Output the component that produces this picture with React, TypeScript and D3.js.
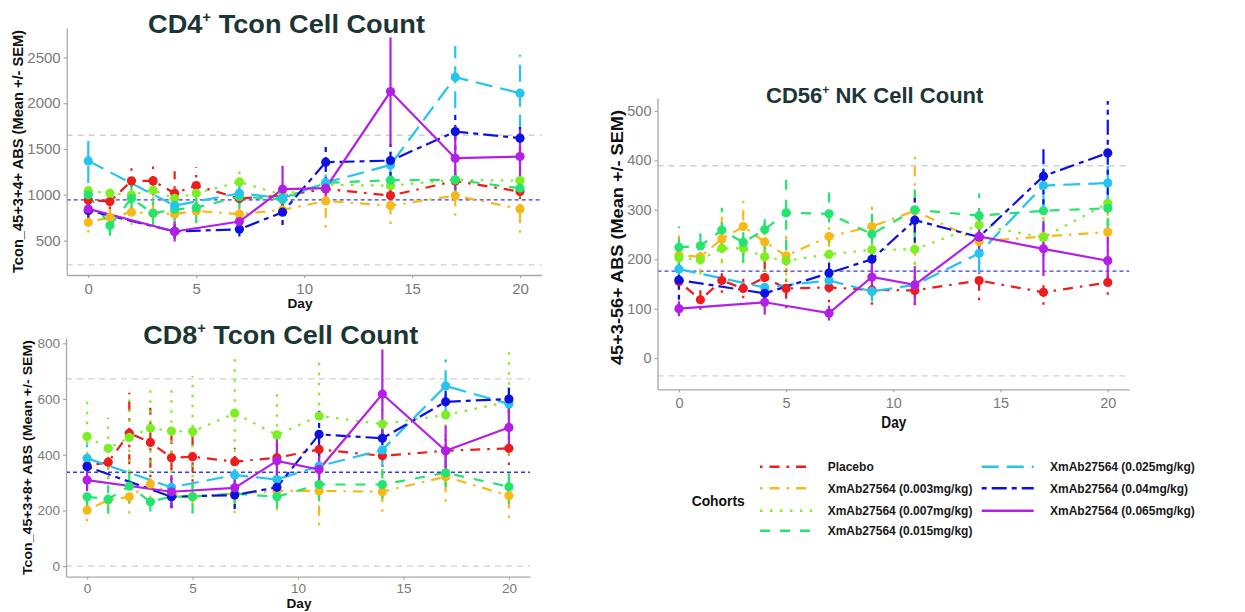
import { useEffect, useRef } from 'react';
import * as d3 from 'd3';

// Sampling days: the first four cohorts were sampled more often
const days = [0, 1, 2, 3, 4, 5, 7, 9, 11, 14, 17, 20];
const daysLate = [0, 4, 7, 9, 11, 14, 17, 20];
const dayTicks = [0, 5, 10, 15, 20];

const cohorts = [
    'Placebo',
    'XmAb27564 (0.003mg/kg)',
    'XmAb27564 (0.007mg/kg)',
    'XmAb27564 (0.015mg/kg)',
    'XmAb27564 (0.025mg/kg)',
    'XmAb27564 (0.04mg/kg)',
    'XmAb27564 (0.065mg/kg)',
];
const cohortDays = [days, days, days, days, daysLate, daysLate, daysLate];

// CD4+ Tcon
const cd4Mean = [
    [944, 926, 1152, 1152, 1017, 1101, 960, 990, 1064, 992, 1150, 1035],
    [700, 755, 810, 800, 790, 824, 788, 835, 933, 882, 991, 846],
    [1043, 1017, 999, 1050, 960, 1017, 1140, 1000, 1108, 1100, 1163, 1155],
    [1000, 664, 960, 799, 840, 860, 980, 950, 1130, 1160, 1163, 1072],
    [1370, 882, 1017, 963, 1133, 1326, 2284, 2109],
    [830, 600, 624, 810, 1356, 1373, 1690, 1618],
    [846, 600, 708, 1061, 1072, 2127, 1400, 1417],
];
const cd4Sem = [
    [90, 80, 180, 160, 240, 200, 150, 120, 130, 110, 100, 80],
    [110, 90, 140, 100, 100, 120, 130, 150, 290, 200, 220, 260],
    [80, 90, 100, 100, 100, 90, 130, 100, 100, 120, 100, 90],
    [100, 110, 150, 130, 120, 170, 130, 100, 100, 100, 150, 100],
    [240, 160, 120, 90, 100, 150, 340, 420],
    [80, 80, 80, 140, 215, 180, 200, 150],
    [70, 110, 80, 255, 120, 590, 350, 300],
];
const cd4Ticks = [500, 1000, 1500, 2000, 2500];
const cd4Limits = [235, 1650];
const cd4Baseline = 945;

// CD8+ Tcon
const cd8Mean = [
    [360, 373, 477, 444, 389, 393, 375, 389, 419, 396, 414, 423],
    [201, 237, 249, 295, 260, 250, 260, 270, 270, 267, 321, 253],
    [465, 423, 462, 495, 485, 483, 549, 471, 539, 510, 543, 590],
    [249, 240, 287, 231, 250, 249, 260, 249, 293, 293, 335, 285],
    [387, 283, 327, 311, 359, 417, 647, 582],
    [357, 249, 255, 283, 473, 459, 590, 600],
    [309, 267, 281, 378, 347, 618, 414, 498],
];
const cd8Sem = [
    [60, 60, 145, 125, 80, 90, 50, 50, 60, 40, 60, 60],
    [40, 50, 60, 50, 50, 60, 70, 70, 123, 72, 90, 80],
    [135, 110, 160, 160, 150, 200, 210, 150, 213, 170, 150, 190],
    [40, 50, 60, 35, 40, 60, 50, 40, 60, 50, 50, 60],
    [50, 40, 40, 30, 50, 60, 95, 60],
    [50, 40, 50, 40, 85, 60, 50, 50],
    [40, 60, 40, 80, 50, 160, 90, 80],
];
const cd8Ticks = [0, 200, 400, 600, 800];
const cd8Limits = [0, 672];
const cd8Baseline = 337;

// CD56+ NK
const nkMean = [
    [155, 118, 157, 141, 163, 141, 143, 138, 137, 157, 133, 153],
    [208, 205, 241, 266, 235, 207, 246, 266, 298, 236, 246, 255],
    [203, 199, 222, 222, 205, 197, 210, 219, 220, 269, 244, 313],
    [224, 227, 259, 234, 260, 294, 292, 251, 300, 288, 298, 303],
    [180, 143, 157, 135, 148, 212, 349, 354],
    [158, 131, 172, 200, 279, 245, 368, 415],
    [100, 113, 91, 164, 148, 246, 221, 197],
];
const nkSem = [
    [35, 20, 25, 20, 57, 40, 30, 30, 30, 40, 25, 25],
    [40, 30, 45, 60, 40, 40, 40, 40, 110, 50, 40, 40],
    [30, 30, 30, 30, 30, 40, 40, 35, 50, 40, 40, 40],
    [42, 35, 45, 40, 40, 75, 58, 60, 60, 45, 40, 40],
    [30, 25, 25, 20, 25, 40, 50, 50],
    [40, 20, 30, 25, 45, 40, 57, 105],
    [15, 25, 15, 30, 38, 40, 55, 48],
];
const nkTicks = [0, 100, 200, 300, 400, 500];
const nkLimits = [-36, 389];
const nkBaseline = 176;

const colors = ['#ee1c1c', '#f7b917', '#7cee22', '#22e46e', '#25c3ef', '#0d12e0', '#b31fe6'];
const dashes = ['2.5,7,10,7', '2.5,7,10,7', '2.5,7.5', '10,10', '17,8', '5,5,15,5', null];

const FONT = "'Liberation Sans', Arial, Helvetica, sans-serif";

const panels = [
    {
        mean: cd4Mean, sem: cd4Sem, ticks: cd4Ticks, limits: cd4Limits, baseline: cd4Baseline,
        left: 66.7, right: 541.6, top: 28, bottom: 275, yDomain: [125, 2820],
        tickSize: 15, xPad: 5,
        title: ['CD4', ' Tcon Cell Count'], titleX: 286.5, titleY: 33.3, titleSize: 26, titleLen: 277,
        yLabel: 'Tcon_45+3+4+ ABS (Mean +/- SEM)', yLabelX: 18.3, yLabelY: 151.5, yLabelSize: 14, yLabelLen: 243,
        xLabelX: 300, xLabelY: 307.5, xLabelSize: 13.5, xLabelLen: 25,
    },
    {
        mean: cd8Mean, sem: cd8Sem, ticks: cd8Ticks, limits: cd8Limits, baseline: cd8Baseline,
        left: 66, right: 530, top: 338, bottom: 576.7, yDomain: [-38, 819],
        tickSize: 13.5, xPad: 4,
        title: ['CD8', ' Tcon Cell Count'], titleX: 280.7, titleY: 343.5, titleSize: 26, titleLen: 275,
        yLabel: 'Tcon_45+3+8+ ABS (Mean +/- SEM)', yLabelX: 27.5, yLabelY: 457.5, yLabelSize: 13, yLabelLen: 235,
        xLabelX: 299, xLabelY: 607.8, xLabelSize: 13.5, xLabelLen: 25,
    },
    {
        mean: nkMean, sem: nkSem, ticks: nkTicks, limits: nkLimits, baseline: nkBaseline,
        left: 657.5, right: 1129.2, top: 98, bottom: 389.3, yDomain: [-63, 526],
        tickSize: 14.5, xPad: 5,
        title: ['CD56', ' NK Cell Count'], titleX: 874.7, titleY: 103.3, titleSize: 22, titleLen: null,
        yLabel: '45+3-56+ ABS (Mean +/- SEM)', yLabelX: 617, yLabelY: 237.5, yLabelSize: 16, yLabelLen: 255,
        xLabelX: 893.8, xLabelY: 428, xLabelSize: 16, xLabelLen: 25,
    },
];

const drawPanel = (svg, p) => {
    const x = d3.scaleLinear().domain([-1, 21]).range([p.left, p.right]);
    const y = d3.scaleLinear().domain(p.yDomain).range([p.bottom, p.top]);
    const g = svg.append('g');

    // Reference lines
    p.limits.forEach(v => {
        g.append('line')
            .attr('x1', p.left).attr('x2', p.right)
            .attr('y1', y(v)).attr('y2', y(v))
            .attr('stroke', '#cfcfcf').attr('stroke-width', 1.3)
            .attr('stroke-dasharray', '6,5');
    });
    g.append('line')
        .attr('x1', p.left).attr('x2', p.right)
        .attr('y1', y(p.baseline)).attr('y2', y(p.baseline))
        .attr('stroke', '#3a3ade').attr('stroke-width', 1.3)
        .attr('stroke-dasharray', '4,3');

    // Axes
    const xAxis = g.append('g')
        .attr('transform', `translate(0,${p.bottom})`)
        .call(d3.axisBottom(x).tickValues(dayTicks).tickSize(3).tickSizeOuter(0).tickPadding(p.xPad));
    const yAxis = g.append('g')
        .attr('transform', `translate(${p.left},0)`)
        .call(d3.axisLeft(y).tickValues(p.ticks).tickFormat(d3.format('d'))
            .tickSize(3).tickSizeOuter(0).tickPadding(3));
    [xAxis, yAxis].forEach(a => {
        a.select('.domain').attr('stroke', '#a8a8a8').attr('stroke-width', 1.3);
        a.selectAll('.tick line').attr('stroke', '#a8a8a8').attr('stroke-width', 1.2);
        a.selectAll('.tick text')
            .attr('fill', '#7a7a7a')
            .style('font-family', FONT)
            .style('font-size', `${p.tickSize}px`);
    });

    const series = cohorts.map((c, i) => cohortDays[i].map((d, j) => ({
        day: d, mean: p.mean[i][j], sem: p.sem[i][j],
    })));

    // Error bars
    series.forEach((pts, i) => {
        g.append('g').selectAll('line')
            .data(pts)
            .join('line')
            .attr('x1', d => x(d.day)).attr('x2', d => x(d.day))
            .attr('y1', d => y(d.mean - d.sem)).attr('y2', d => y(d.mean + d.sem))
            .attr('stroke', colors[i]).attr('stroke-width', 2.2)
            .attr('stroke-dasharray', dashes[i]);
    });

    // Lines
    const line = d3.line().x(d => x(d.day)).y(d => y(d.mean));
    series.forEach((pts, i) => {
        g.append('path')
            .datum(pts)
            .attr('d', line)
            .attr('fill', 'none')
            .attr('stroke', colors[i]).attr('stroke-width', 2.2)
            .attr('stroke-dasharray', dashes[i]);
    });

    // Points
    series.forEach((pts, i) => {
        g.append('g').selectAll('circle')
            .data(pts)
            .join('circle')
            .attr('cx', d => x(d.day))
            .attr('cy', d => y(d.mean))
            .attr('r', 4.6)
            .attr('fill', colors[i]);
    });

    // Title with superscript plus
    const t = svg.append('text')
        .attr('x', p.titleX).attr('y', p.titleY)
        .attr('text-anchor', 'middle')
        .attr('fill', '#1c3636')
        .style('font-family', FONT).style('font-weight', 'bold')
        .style('font-size', `${p.titleSize}px`);
    if (p.titleLen) t.attr('textLength', p.titleLen).attr('lengthAdjust', 'spacingAndGlyphs');
    t.append('tspan').text(p.title[0]);
    t.append('tspan').attr('dy', -p.titleSize * 0.42).style('font-size', `${p.titleSize * 0.55}px`).text('+');
    t.append('tspan').attr('dy', p.titleSize * 0.42).text(p.title[1]);

    // Axis titles
    svg.append('text')
        .attr('transform', `translate(${p.yLabelX + p.yLabelSize * 0.35},${p.yLabelY}) rotate(-90)`)
        .attr('text-anchor', 'middle')
        .attr('textLength', p.yLabelLen).attr('lengthAdjust', 'spacingAndGlyphs')
        .style('font-family', FONT).style('font-weight', 'bold')
        .style('font-size', `${p.yLabelSize}px`)
        .attr('fill', '#111')
        .text(p.yLabel);
    svg.append('text')
        .attr('x', p.xLabelX).attr('y', p.xLabelY)
        .attr('text-anchor', 'middle')
        .attr('textLength', p.xLabelLen).attr('lengthAdjust', 'spacingAndGlyphs')
        .style('font-family', FONT).style('font-weight', 'bold')
        .style('font-size', `${p.xLabelSize}px`)
        .attr('fill', '#111')
        .text('Day');
};

const drawLegend = (svg) => {
    const rowY = [466.7, 488.3, 510.7, 530.7];
    const cols = [{ lx: 760, tx: 827.7 }, { lx: 981.7, tx: 1050 }];

    svg.append('text')
        .attr('x', 691.7).attr('y', 506)
        .attr('textLength', 53).attr('lengthAdjust', 'spacingAndGlyphs')
        .style('font-family', FONT).style('font-weight', 'bold').style('font-size', '15px')
        .attr('fill', '#111')
        .text('Cohorts');

    cohorts.forEach((c, i) => {
        const col = cols[i < 4 ? 0 : 1];
        const yy = rowY[i < 4 ? i : i - 4];
        svg.append('line')
            .attr('x1', col.lx).attr('x2', col.lx + 52)
            .attr('y1', yy).attr('y2', yy)
            .attr('stroke', colors[i]).attr('stroke-width', 2.5)
            .attr('stroke-dasharray', dashes[i]);
        svg.append('text')
            .attr('x', col.tx).attr('y', yy + 4.3)
            .style('font-family', FONT).style('font-weight', 'bold').style('font-size', '12px')
            .attr('fill', '#1a1a1a')
            .text(c);
    });
};

const App = () => {
    const svgRef = useRef(null);

    useEffect(() => {
        const svg = d3.select(svgRef.current);
        svg.selectAll('*').remove();
        panels.forEach(p => drawPanel(svg, p));
        drawLegend(svg);
    }, []);

    return (
        <svg
            ref={svgRef}
            width={1245}
            height={612}
            style={{ position: 'absolute', left: 0, top: 0, background: '#fff' }}
        />
    );
};

export default App;
